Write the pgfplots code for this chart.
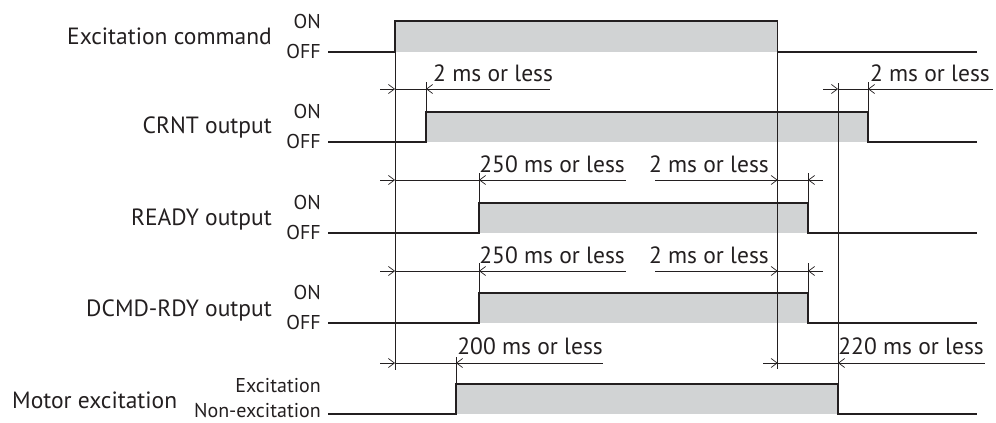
\documentclass[border=0pt]{standalone}
\usepackage{pgfplots}
\pgfplotsset{compat=1.18}
\usepackage{fontspec}
\setmainfont{PT Sans}
\usetikzlibrary{arrows.meta}
\definecolor{ln}{RGB}{35,31,32}
\definecolor{fl}{RGB}{209,211,212}
\newcommand{\bigf}{\fontsize{23.5}{27}\selectfont}
\newcommand{\smf}{\fontsize{20}{23}\selectfont}
\newcommand{\mf}{\fontsize{20}{24}\selectfont}
\begin{document}
\begin{tikzpicture}
\begin{axis}[scale only axis, width=996pt, height=423pt,
  xmin=0, xmax=996, ymin=0, ymax=423, y dir=reverse,
  hide axis, clip=false,
  sig/.style={color=ln, line width=1.1pt, mark=none, solid},
  dl/.style={color=ln, line width=0.7pt, mark=none, solid},
  ar/.style={-{Straight Barb[length=6pt,width=9pt,line width=0.7pt]}},
  al/.style={{Straight Barb[length=6pt,width=9pt,line width=0.7pt]}-}]
\path (axis cs:0,0) rectangle (axis cs:996,423);
% fills
\addplot[fill=fl, draw=none] coordinates {(395,21) (777.7,21) (777.7,52) (395,52)} --cycle;
\addplot[fill=fl, draw=none] coordinates {(426,112) (868,112) (868,142) (426,142)} --cycle;
\addplot[fill=fl, draw=none] coordinates {(479,203) (808,203) (808,233) (479,233)} --cycle;
\addplot[fill=fl, draw=none] coordinates {(479,293) (808,293) (808,323) (479,323)} --cycle;
\addplot[fill=fl, draw=none] coordinates {(456,384) (838,384) (838,414) (456,414)} --cycle;
% signals
\addplot[sig] coordinates {(328,52) (395,52) (395,21) (777.7,21) (777.7,52) (977,52)};
\addplot[sig] coordinates {(328,142) (426,142) (426,112) (868,112) (868,142) (977,142)};
\addplot[sig] coordinates {(328,233) (479,233) (479,203) (808,203) (808,233) (977,233)};
\addplot[sig] coordinates {(328,323) (479,323) (479,293) (808,293) (808,323) (977,323)};
\addplot[sig] coordinates {(328,414) (456,414) (456,384) (838,384) (838,414) (977,414)};
% long vertical guide lines
\addplot[dl] coordinates {(395,52) (395,370)};
\addplot[dl] coordinates {(777.7,52) (777.7,369)};
\addplot[dl] coordinates {(838,83) (838,384)};
% extension lines
\addplot[dl] coordinates {(426,82) (426,112)};
\addplot[dl] coordinates {(868,82) (868,112)};
\addplot[dl] coordinates {(479,173) (479,203)};
\addplot[dl] coordinates {(808,173) (808,203)};
\addplot[dl] coordinates {(479,263) (479,293)};
\addplot[dl] coordinates {(808,263) (808,293)};
\addplot[dl] coordinates {(456,357) (456,384)};
% dimension lines: CRNT
\addplot[dl,ar] coordinates {(380,89) (395,89)};
\addplot[dl] coordinates {(395,89) (426,89)};
\addplot[dl,al] coordinates {(426,89) (550,89)};
\addplot[dl,ar] coordinates {(823,89) (838,89)};
\addplot[dl] coordinates {(838,89) (868,89)};
\addplot[dl,al] coordinates {(868,89) (993,89)};
% READY
\addplot[dl,ar] coordinates {(380,180) (395,180)};
\addplot[dl] coordinates {(395,180) (479,180)};
\addplot[dl,al] coordinates {(479,180) (626,180)};
\addplot[dl,ar] coordinates {(655,180) (777.7,180)};
\addplot[dl] coordinates {(777.7,180) (808,180)};
\addplot[dl,al] coordinates {(808,180) (823,180)};
% DCMD
\addplot[dl,ar] coordinates {(380,271) (395,271)};
\addplot[dl] coordinates {(395,271) (479,271)};
\addplot[dl,al] coordinates {(479,271) (626,271)};
\addplot[dl,ar] coordinates {(655,271) (777.7,271)};
\addplot[dl] coordinates {(777.7,271) (808,271)};
\addplot[dl,al] coordinates {(808,271) (823,271)};
% Motor
\addplot[dl,ar] coordinates {(380,363) (395,363)};
\addplot[dl] coordinates {(395,363) (456,363)};
\addplot[dl,al] coordinates {(456,363) (603,363)};
\addplot[dl,ar] coordinates {(763,363) (777.7,363)};
\addplot[dl] coordinates {(777.7,363) (838,363)};
\addplot[dl,al] coordinates {(838,363) (985,363)};
% dimension texts
\begin{scope}[every node/.style={text=ln, inner sep=0pt, font=\bigf}]
\node[anchor=base west] at (axis cs:433,81) {2 ms or less};
\node[anchor=base east] at (axis cs:990,81) {2 ms or less};
\node[anchor=base east] at (axis cs:625,172) {250 ms or less};
\node[anchor=base east] at (axis cs:769,172) {2 ms or less};
\node[anchor=base east] at (axis cs:625,263) {250 ms or less};
\node[anchor=base east] at (axis cs:769,263) {2 ms or less};
\node[anchor=base east] at (axis cs:603,354) {200 ms or less};
\node[anchor=base east] at (axis cs:984,354) {220 ms or less};
% signal names
\node[anchor=base east] at (axis cs:272,44) {Excitation command};
\node[anchor=base east] at (axis cs:272,133) {CRNT output};
\node[anchor=base east] at (axis cs:272,225) {READY output};
\node[anchor=base east] at (axis cs:272,316) {DCMD-RDY output};
\node[anchor=base west] at (axis cs:12,408) {Motor excitation};
\end{scope}
\begin{scope}[every node/.style={text=ln, inner sep=0pt, font=\smf, anchor=base east}]
\node at (axis cs:321,28) {ON};
\node at (axis cs:321,58) {OFF};
\node at (axis cs:321,118) {ON};
\node at (axis cs:321,148) {OFF};
\node at (axis cs:321,209) {ON};
\node at (axis cs:321,239) {OFF};
\node at (axis cs:321,299) {ON};
\node at (axis cs:321,329) {OFF};
\end{scope}
\begin{scope}[every node/.style={text=ln, inner sep=0pt, font=\mf, anchor=base east}]
\node at (axis cs:321,392) {Excitation};
\node at (axis cs:321,417) {Non-excitation};
\end{scope}
\end{axis}
\end{tikzpicture}
\end{document}
